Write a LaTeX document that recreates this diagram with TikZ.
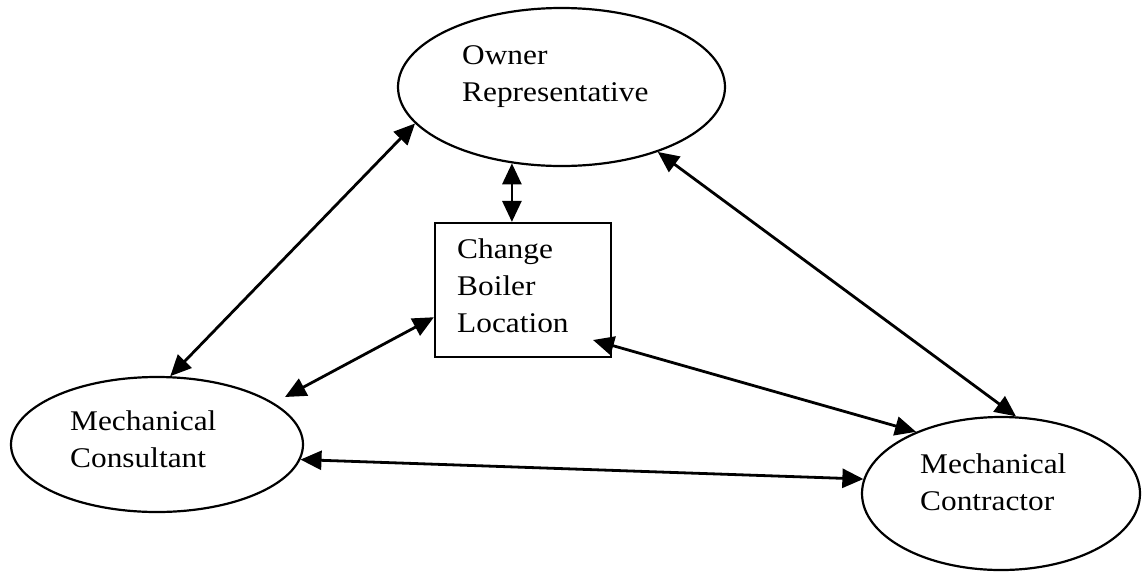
\documentclass[tikz,border=0pt]{standalone}
\usepackage{fontspec}
\setmainfont{Liberation Serif}[FakeStretch=1.1]
\usetikzlibrary{shapes.geometric,arrows.meta,calc}
\begin{document}
\begin{tikzpicture}[x=1pt,y=-1pt,
  ell/.style={draw, ellipse, line width=2.2pt, inner sep=0pt},
  boxst/.style={draw, rectangle, line width=2.2pt, inner sep=0pt},
  lbl/.style={anchor=north west, inner sep=0pt, align=left, font=\fontsize{28.5}{37}\selectfont},
  link/.style={line width=2.8pt, {Triangle[length=21pt,width=19pt]}-{Triangle[length=21pt,width=19pt]}}]
\fill[white] (0,0) rectangle (1145,571);
\useasboundingbox (0,0) rectangle (1145,571);
\node[ell, minimum width=327pt, minimum height=158pt] (owner) at (561.5,87) {};
\node[boxst, minimum width=176pt, minimum height=134pt] (box) at (523,290) {};
\node[ell, minimum width=292pt, minimum height=135pt] (consult) at (157,444.5) {};
\node[ell, minimum width=278pt, minimum height=153pt] (contr) at (1001,493.5) {};
\node[lbl] (ownerT) at (462,45.5) {Owner\\Representative};
\node[lbl] (boxT) at (457,238.5) {Change\\Boiler\\Location};
\node[lbl] (consultT) at (70,410.5) {Mechanical\\Consultant};
\node[lbl] (contrT) at (920,453.5) {Mechanical\\Contractor};
\coordinate (cfree) at (285,397);
\coordinate (bfree) at (593,340);
\draw[link] (owner.194.8) -- (consult.79.1);
\draw[link] (owner.237.3) -- (owner.237.3 |- box.north);
\draw[link] (box.197.7) -- (cfree);
\draw[link] (bfree) -- (contr.144.2);
\draw[link] (owner.326.5) -- (contr.79.6);
\draw[link] (consult.354.7) -- (contr.174.5);
\end{tikzpicture}
\end{document}
